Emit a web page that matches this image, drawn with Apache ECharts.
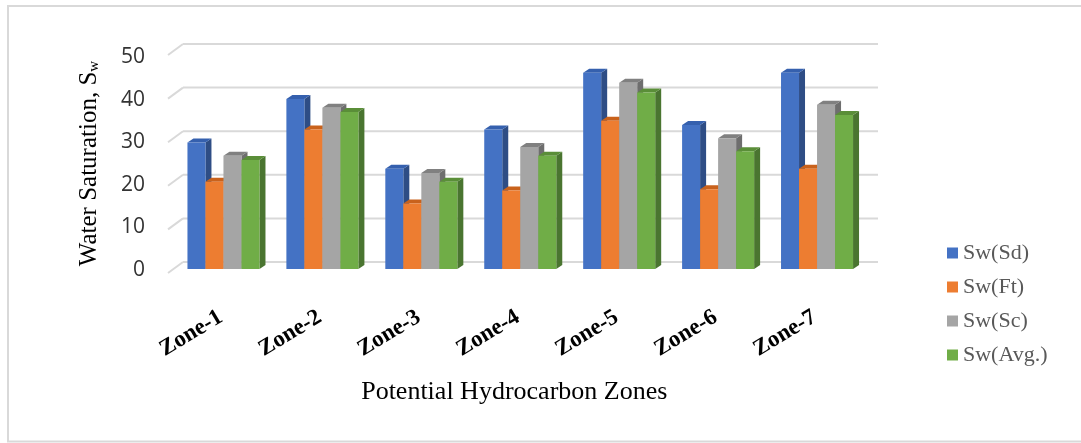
<!DOCTYPE html>
<html>
<head>
<meta charset="utf-8">
<script src="https://cdn.jsdelivr.net/npm/echarts@6.0.0/dist/echarts.min.js"></script>
<style>
html,body{margin:0;padding:0;background:#fff;}
#chart{width:1081px;height:443px;}
</style>
</head>
<body>
<div id="chart"></div>
<script>
var categories = ['Zone-1','Zone-2','Zone-3','Zone-4','Zone-5','Zone-6','Zone-7'];
var swSd  = [29, 39, 23, 32, 45, 33, 45];
var swFt  = [20, 32, 15, 18, 34, 18.3, 23];
var swSc  = [26, 37, 22, 28, 42.7, 30, 37.7];
var swAvg = [25, 36, 20, 26, 40.5, 27, 35.3];
var seriesNames = ['Sw(Sd)', 'Sw(Ft)', 'Sw(Sc)', 'Sw(Avg.)'];
var yTicks = [0, 10, 20, 30, 40, 50];

var faceColors = [
  {front:'#4472C4', top:'#3560AE', side:'#2E4D85'},
  {front:'#ED7D31', top:'#C9621C', side:'#B0561A'},
  {front:'#A5A5A5', top:'#808080', side:'#6E6E6E'},
  {front:'#70AD47', top:'#5A8E38', side:'#4A7530'}
];
var DX = 6, DY = 4, GROUP = 0.728;

function barRenderer(idx){
  return function(params, api){
    var cat = api.value(0), val = api.value(1);
    var base = api.coord([cat, 0]);
    var top = api.coord([cat, val]);
    var band = api.size([1, 0])[0];
    var gw = band * GROUP, bw = gw / 4;
    var x0 = base[0] - gw / 2 + idx * bw;
    var x1 = x0 + bw;
    var yt = top[1], yb = base[1];
    var c = faceColors[idx];
    return {
      type: 'group',
      children: [
        {type:'polygon', shape:{points:[[x1,yt],[x1+DX,yt-DY],[x1+DX,yb-DY],[x1,yb]]}, style:{fill:c.side}},
        {type:'polygon', shape:{points:[[x0,yt],[x1,yt],[x1+DX,yt-DY],[x0+DX,yt-DY]]}, style:{fill:c.top}},
        {type:'rect', shape:{x:x0, y:yt, width:bw, height:yb-yt}, style:{fill:c.front}}
      ]
    };
  };
}

function wallRenderer(params, api){
  var v = api.value(1);
  var y = api.coord([0, v])[1] - 7;
  var cs = params.coordSys;
  var xb = cs.x + 9;
  return {
    type:'group',
    children:[
      {type:'line', shape:{x1:xb, y1:y, x2:878, y2:y}, style:{stroke:'#D9D9D9', lineWidth:2}},
      {type:'line', shape:{x1:xb-15, y1:y+11, x2:xb, y2:y}, style:{stroke:'#D9D9D9', lineWidth:2}}
    ]
  };
}

var allData = [swSd, swFt, swSc, swAvg];
var series = [{
  type:'custom', name:'wall', silent:true, z:1,
  xAxisIndex:0, yAxisIndex:0,
  renderItem: wallRenderer,
  encode:{x:0, y:1},
  data: yTicks.map(function(t){ return [0, t]; })
}];
allData.forEach(function(arr, i){
  series.push({
    type:'custom', name: seriesNames[i], z: 2 + i,
    xAxisIndex:0, yAxisIndex:0,
    itemStyle:{color: faceColors[i].front},
    renderItem: barRenderer(i),
    encode:{x:0, y:1},
    data: arr.map(function(v, k){ return [k, v]; })
  });
});

var option = {
  animation:false,
  backgroundColor:'#fff',
  graphic:[{
    type:'rect', silent:true,
    shape:{x:8, y:6, width:1090, height:435.5},
    style:{fill:'none', stroke:'#D9D9D9', lineWidth:2}
  }],
  grid:[
    {left:174, right:214.5, top:51, bottom:174},
    {left:174, right:214.5, top:57, bottom:173}
  ],
  xAxis:[
    {type:'category', gridIndex:0, data:categories,
     axisLine:{show:false}, axisTick:{show:false},
     axisLabel:{rotate:31, margin:45, fontFamily:'Liberation Serif', fontWeight:'bold', fontSize:23, color:'#000', padding:[0,3,0,0]},
     name:'Potential Hydrocarbon Zones', nameLocation:'middle', nameGap:110,
     nameTextStyle:{fontFamily:'Liberation Serif', fontSize:26, color:'#000', padding:[0,12,0,0]}
    },
    {type:'category', gridIndex:1, data:categories, show:false}
  ],
  yAxis:[
    {type:'value', gridIndex:0, min:0, max:50, interval:10, show:false, splitLine:{show:false}},
    {type:'value', gridIndex:1, min:0, max:50, interval:10,
     axisLine:{show:false}, axisTick:{show:false}, splitLine:{show:false},
     axisLabel:{margin:29, fontFamily:'Open Sans', fontSize:21, color:'#333'},
     name:'Water Saturation, S{sub|w}', nameLocation:'middle', nameGap:72,
     nameTextStyle:{fontFamily:'Liberation Serif', fontSize:25, color:'#000',
       rich:{sub:{fontFamily:'Liberation Serif', fontSize:15, color:'#000', verticalAlign:'bottom', padding:[10,0,0,0]}}}
    }
  ],
  legend:{
    orient:'vertical', left:947, top:242, padding:0,
    itemWidth:11, itemHeight:11, itemGap:12,
    icon:'rect',
    data: seriesNames,
    textStyle:{fontFamily:'Liberation Serif', fontSize:22, color:'#595959', lineHeight:22}
  },
  series: series
};

var chart = echarts.init(document.getElementById('chart'), null, {renderer:'canvas'});
chart.setOption(option);
</script>
</body>
</html>
